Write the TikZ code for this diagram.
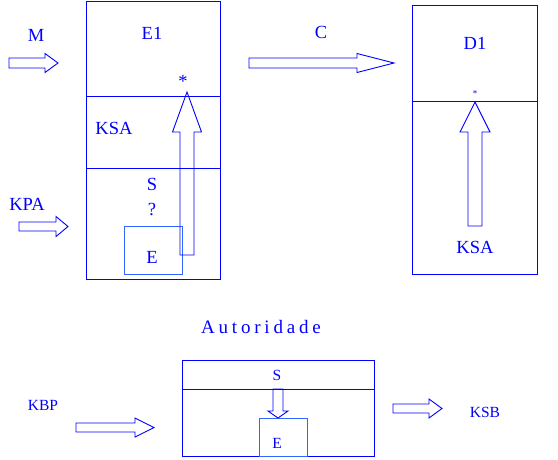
\documentclass[tikz,border=0pt]{standalone}
\usepackage{fontspec}
\setmainfont{Liberation Serif}
\usepackage{tikz}
\definecolor{ink}{HTML}{0000FF}
\definecolor{inklight}{HTML}{3366FF}
\tikzset{
  every picture/.style={line join=miter, line cap=butt},
  box/.style={draw=ink, line width=1pt},
  ebox/.style={draw=inklight, line width=1pt},
  fatarrow/.style={draw=ink, line width=0.9pt},
  lbl/.style={text=ink, inner sep=0pt, font=\fontsize{18.5}{20}\selectfont},
  slbl/.style={text=ink, inner sep=0pt, font=\fontsize{15.5}{17}\selectfont},
}
% hollow block arrow: x, y of tail centre, angle, length, head length, half shaft, half head
\newcommand{\fatarrow}[7]{%
  \draw[fatarrow,shift={(#1,#2)},rotate=#3] (0,-#6) -- (#4-#5,-#6) -- (#4-#5,-#7) -- (#4,0)
    -- (#4-#5,#7) -- (#4-#5,#6) -- (0,#6) -- cycle;}

\begin{document}
\begin{tikzpicture}[x=1pt,y=-1pt]
\useasboundingbox (0,0) rectangle (558,459);
% left box E1
\draw[box] (86,1) rectangle (220,279);
\draw[box] (86,96) -- (220,96) (86,168) -- (220,168);
\draw[ebox] (124,226) rectangle (182,274);
% right box D1
\draw[box] (412,5) rectangle (537,274);
\draw[box] (412,101) -- (537,101);
% bottom box
\draw[box] (182,360) rectangle (374,456);
\draw[box] (182,389) -- (374,389);
\draw[ebox] (259,418) rectangle (307,456);
% block arrows
\fatarrow{9}{63}{0}{49}{13}{5}{9.5}
\fatarrow{249}{63}{0}{145}{37}{5}{9.5}
\fatarrow{19}{226.5}{0}{49}{12}{4.5}{10}
\fatarrow{187}{255}{90}{163}{40}{7}{14.5}
\fatarrow{475}{226}{90}{124}{30}{7}{15}
\fatarrow{76}{427.5}{0}{78}{19}{4.5}{9.5}
\fatarrow{393}{408.5}{0}{49}{13}{4.5}{9.5}
\fatarrow{278}{389}{-90}{29}{7}{5}{10}
% labels
\node[lbl] (m) at (36,35) {M};
\node[lbl] (e1) at (152,33) {E1};
\node[lbl] (star1) at (183,81) {*};
\node[lbl] (ksa1) at (114,128) {KSA};
\node[lbl] (s1) at (152,184) {S};
\node[lbl] (q) at (152,210) {?};
\node[lbl] (e) at (152,257) {E};
\node[lbl] (kpa) at (27,204) {KPA};
\node[lbl] (c) at (321,32) {C};
\node[lbl] (d1) at (475,43) {D1};
\node[text=ink, inner sep=0pt, font=\fontsize{9}{10}\selectfont] (star2) at (475,94) {*};
\node[lbl] (ksa2) at (475,247) {KSA};
\node[text=ink, inner sep=0pt, font=\fontsize{19}{21}\selectfont\addfontfeatures{LetterSpace=20}] (aut) at (261,327) {Autoridade};
\node[slbl] (s2) at (277,375) {S};
\node[slbl] (e2) at (277,443) {E};
\node[slbl] (kbp) at (43,405) {KBP};
\node[slbl] (ksb) at (485,412) {KSB};
\end{tikzpicture}
\end{document}
